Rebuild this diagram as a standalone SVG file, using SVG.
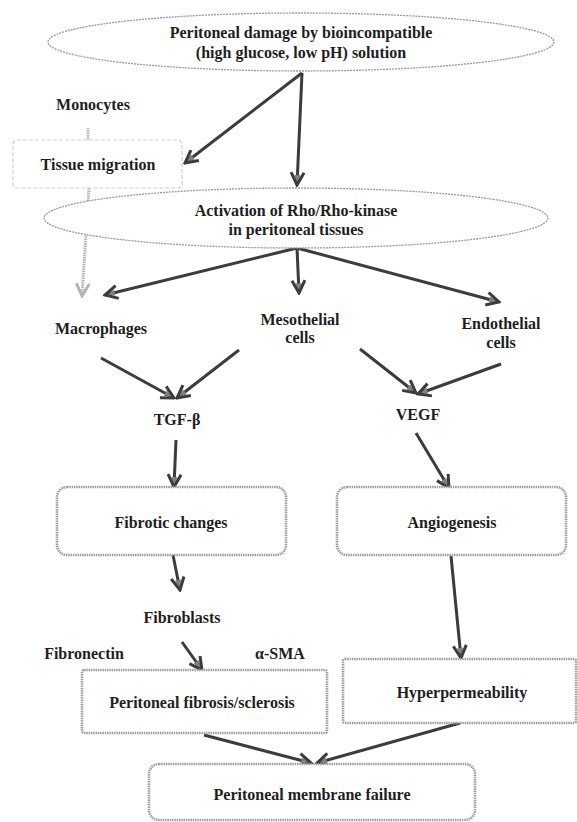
<svg xmlns="http://www.w3.org/2000/svg" width="577" height="822" viewBox="0 0 577 822">
<defs>
<style>
text{font-family:"Liberation Serif","Times New Roman",serif;font-weight:bold;font-size:16px;fill:#1e1e1e;text-anchor:middle}
.ell{fill:#fff;stroke:#9a9a9a;stroke-width:1.3;stroke-dasharray:2 1}
.box{fill:#fff;stroke:#9e9e9e;stroke-width:2.6;stroke-dasharray:1.5 0.8}
.faint{fill:#fff;stroke:#cfcfcf;stroke-width:1.2;stroke-dasharray:4 2}
.arr{stroke:#3c3c3c;stroke-width:3;fill:none;marker-end:url(#ah)}
.garr{stroke:#b4b4b4;stroke-width:3;fill:none;stroke-dasharray:1.5 0.8;marker-end:url(#gh)}
.gl{stroke:#b4b4b4;stroke-width:2.5;fill:none;stroke-dasharray:1.5 0.8}
</style>
<marker id="ah" viewBox="0 0 16 16" refX="14" refY="8" markerWidth="16" markerHeight="16" markerUnits="userSpaceOnUse" orient="auto">
<path d="M4,5 L14,8 L4,11 Z" fill="#808080"/>
<path d="M1.5,1.5 L14,8 L1.5,14.5" fill="none" stroke="#3c3c3c" stroke-width="3"/>
</marker>
<marker id="gh" viewBox="0 0 16 16" refX="14" refY="8" markerWidth="16" markerHeight="16" markerUnits="userSpaceOnUse" orient="auto">
<path d="M1.5,1.5 L14,8 L1.5,14.5" fill="none" stroke="#b4b4b4" stroke-width="3"/>
</marker>
</defs>
<rect width="577" height="822" fill="#fff"/>
<g id="connectors">
<line class="gl" x1="88" y1="128" x2="88" y2="140"/>
<line class="garr" x1="89" y1="188" x2="82" y2="296"/>
<line class="arr" x1="302" y1="73" x2="185" y2="163"/>
<line class="arr" x1="302" y1="73" x2="297" y2="185"/>
<line class="arr" x1="297" y1="248" x2="105" y2="295"/>
<line class="arr" x1="297" y1="248" x2="299" y2="293"/>
<line class="arr" x1="297" y1="248" x2="499" y2="302"/>
<line class="arr" x1="101" y1="358" x2="174" y2="398"/>
<line class="arr" x1="239" y1="350" x2="177" y2="398"/>
<line class="arr" x1="360" y1="349" x2="416" y2="393"/>
<line class="arr" x1="501" y1="364" x2="418" y2="394"/>
<line class="arr" x1="176" y1="440" x2="174" y2="487"/>
<line class="arr" x1="416" y1="433" x2="449" y2="488"/>
<line class="arr" x1="173" y1="555" x2="180" y2="590"/>
<line class="arr" x1="182" y1="642" x2="202" y2="670"/>
<line class="arr" x1="451" y1="556" x2="461" y2="658"/>
<line class="arr" x1="204" y1="735" x2="311" y2="763"/>
<line class="arr" x1="460" y1="723" x2="317" y2="763"/>
</g>
<g id="damage">
<ellipse class="ell" cx="301" cy="42" rx="253" ry="29"/>
<text x="301" y="38">Peritoneal damage by bioincompatible</text>
<text x="301" y="58">(high glucose, low pH) solution</text>
</g>
<g id="monocytes"><text x="93" y="110">Monocytes</text></g>
<g id="tissue-migration">
<rect class="faint" x="13" y="140" width="169" height="48" rx="4"/>
<text x="98" y="170">Tissue migration</text>
</g>
<g id="rho">
<ellipse class="ell" cx="296" cy="218" rx="252" ry="30"/>
<text x="296" y="216">Activation of Rho/Rho-kinase</text>
<text x="296" y="235">in peritoneal tissues</text>
</g>
<g id="macrophages"><text x="101" y="334">Macrophages</text></g>
<g id="mesothelial"><text x="300" y="325">Mesothelial</text><text x="300" y="343">cells</text></g>
<g id="endothelial"><text x="501" y="329">Endothelial</text><text x="501" y="348">cells</text></g>
<g id="tgf"><text x="177" y="425">TGF-β</text></g>
<g id="vegf"><text x="418" y="420">VEGF</text></g>
<g id="fibrotic">
<rect class="box" x="57" y="487" width="229" height="68" rx="10"/>
<text x="171" y="528">Fibrotic changes</text>
</g>
<g id="angiogenesis">
<rect class="box" x="337" y="487" width="229" height="68" rx="10"/>
<text x="452" y="528">Angiogenesis</text>
</g>
<g id="fibroblasts"><text x="182" y="623">Fibroblasts</text></g>
<g id="fibronectin"><text x="84" y="659">Fibronectin</text></g>
<g id="asma"><text x="280" y="659">α-SMA</text></g>
<g id="fibrosis">
<rect class="box" x="82" y="670" width="245" height="63" rx="2"/>
<text x="202" y="708">Peritoneal fibrosis/sclerosis</text>
</g>
<g id="hyperpermeability">
<rect class="box" x="343" y="659" width="233" height="64" rx="2"/>
<text x="462" y="698">Hyperpermeability</text>
</g>
<g id="failure">
<rect class="box" x="149" y="764" width="326" height="56" rx="10"/>
<text x="312" y="800">Peritoneal membrane failure</text>
</g>
</svg>
